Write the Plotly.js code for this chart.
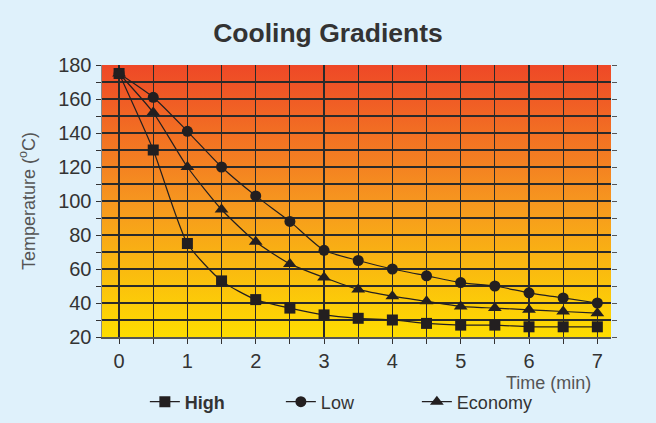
<!DOCTYPE html>
<html><head><meta charset="utf-8">
<script src="https://cdn.plot.ly/plotly-3.0.1.min.js"></script>
<style>html,body{margin:0;padding:0;background:#dff1fb;}#chart{width:656px;height:423px;}</style>
</head><body><div id="chart"></div>
<script>
const time = [0, 0.5, 1, 1.5, 2, 2.5, 3, 3.5, 4, 4.5, 5, 5.5, 6, 6.5, 7];
const high = [175, 130, 75, 53, 42, 37, 33, 31, 30, 28, 27, 27, 26, 26, 26];
const low = [175, 161, 141, 120, 103, 88, 71, 65, 60, 56, 52, 50, 46, 43, 40];
const economy = [175, 152, 120, 95, 76, 63, 55, 48, 44, 41, 38, 37, 36, 35, 34];
const seriesNames = ['<b>High</b>', 'Low', 'Economy'];
const symbols = ['square', 'circle', 'triangle-up'];
const markerSizes = [11, 11, 12];

const ink = '#231f20';
const series = [high, low, economy];
const traces = series.map((vals, i) => ({
  x: time, y: vals, name: seriesNames[i], type: 'scatter', mode: 'lines+markers',
  line: {color: ink, width: 1.2, shape: 'spline', smoothing: 0.6},
  marker: {symbol: symbols[i], size: markerSizes[i], color: ink},
  cliponaxis: false
}));

const grad = 'data:image/svg+xml;utf8,' + encodeURIComponent(
 '<svg xmlns="http://www.w3.org/2000/svg" width="100" height="100" preserveAspectRatio="none"><defs><linearGradient id="g" x1="0" y1="0" x2="0" y2="1"><stop offset="0" stop-color="#ee4827"/><stop offset="0.5" stop-color="#f6961f"/><stop offset="1" stop-color="#fedd00"/></linearGradient></defs><rect width="100" height="100" fill="url(#g)"/></svg>');

const layout = {
  width: 656, height: 423,
  paper_bgcolor: '#dff1fb', plot_bgcolor: 'rgba(0,0,0,0)',
  margin: {l: 102, r: 45, t: 65, b: 86, autoexpand: false},
  font: {family: 'Liberation Sans, Arial, sans-serif', color: '#333'},
  title: {text: '<b>Cooling Gradients</b>', x: 0.5, xanchor: 'center', y: 0.922, yanchor: 'middle',
          font: {size: 26.5, color: '#333', family: 'Liberation Sans, Arial, sans-serif'}},
  showlegend: true,
  legend: {orientation: 'h', x: 0.485, xanchor: 'center', y: -0.239, yanchor: 'middle',
           font: {size: 18, color: '#333'}, bgcolor: 'rgba(0,0,0,0)', entrywidth: 91, entrywidthmode: 'pixels'},
  xaxis: {range: [-0.25, 7.2], dtick: 1, tick0: 0, showgrid: true, gridcolor: '#2a2a2a', gridwidth: 1.2,
          ticks: 'outside', ticklen: 5, tickcolor: '#333', tickfont: {size: 20, color: '#333'},
          minor: {dtick: 0.5, showgrid: true, gridcolor: '#2a2a2a', gridwidth: 1.2, ticks: 'outside', ticklen: 5, tickcolor: '#333'},
          showline: true, linecolor: '#555', linewidth: 1.5, mirror: false, zeroline: false, fixedrange: true},
  yaxis: {range: [20, 180], dtick: 20, tick0: 20, showgrid: true, gridcolor: '#2a2a2a', gridwidth: 1.2,
          ticks: 'outside', ticklen: 5, tickcolor: '#333', tickfont: {size: 20, color: '#333'},
          minor: {dtick: 10, showgrid: true, gridcolor: '#2a2a2a', gridwidth: 1.2, ticks: 'outside', ticklen: 5, tickcolor: '#333'},
          title: {text: 'Temperature (<sup>o</sup>C)', font: {size: 18, color: '#555'}, standoff: 18},
          showline: true, linecolor: '#888', linewidth: 1.5, zeroline: false, fixedrange: true},
  yaxis2: {overlaying: 'y', side: 'right', range: [20, 180], dtick: 10, showgrid: false, showticklabels: false,
           ticks: 'outside', ticklen: 5, tickcolor: '#555', showline: false, zeroline: false},
  images: [{source: grad, xref: 'paper', yref: 'paper', x: 0, y: 1, sizex: 1, sizey: 1,
            sizing: 'stretch', layer: 'below', xanchor: 'left', yanchor: 'top'}],
  annotations: [{text: 'Time (min)', xref: 'paper', yref: 'paper', x: 0.965, y: -0.168, xanchor: 'right', yanchor: 'middle',
                 showarrow: false, font: {size: 18, color: '#555'}}]
};
traces.push({x: [0], y: [20], yaxis: 'y2', mode: 'markers', marker: {opacity: 0}, showlegend: false, hoverinfo: 'skip'});
Plotly.newPlot('chart', traces, layout, {displayModeBar: false, staticPlot: true});
</script></body></html>
